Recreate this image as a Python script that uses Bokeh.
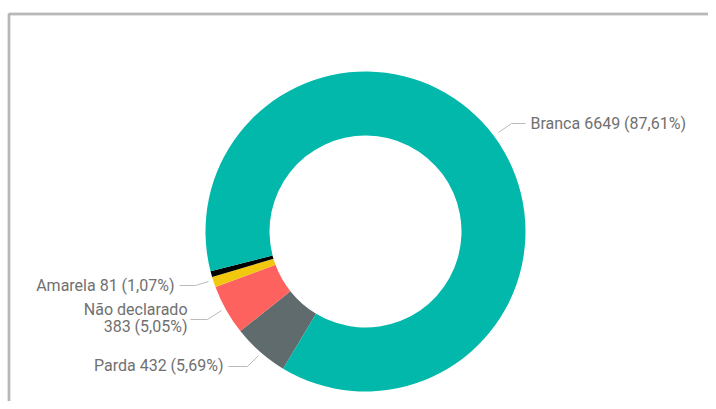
import math
from bokeh.plotting import figure
from bokeh.models import Range1d, ColumnDataSource
from bokeh.core.properties import value
from bokeh.embed import file_html
from bokeh.resources import INLINE

# ---- data ----
categories = ["Parda", "Não declarado", "Amarela", "Preta", "Branca"]
counts = [432, 383, 81, 44, 6649]
colors = ["#5F6B6D", "#FD625E", "#F2C80F", "#000000", "#01B8AA"]

total = sum(counts)

# ---- layout constants (screen pixel coordinates) ----
H = 409
CX, CY = 365, 231
R_OUT, R_IN = 160, 96
START_CW = 211.0  # degrees clockwise from 12 o'clock where first slice begins

def sy(y):
    return H - y

p = figure(width=708, height=401, output_backend="svg", toolbar_location=None,
           x_range=Range1d(0, 708), y_range=Range1d(8, 409), min_border=0)
p.axis.visible = False
p.grid.visible = False
p.outline_line_color = None
p.background_fill_color = "white"
p.border_fill_color = "white"

# frame border
p.line([8.5, 8.5, 716], [0, sy(13.5), sy(13.5)], line_color="#c8c8c8", line_width=3)
p.line([8.5, 8.5, 716], [0, sy(13.5), sy(13.5)], line_color="#a8a8a8", line_width=1)

starts, ends = [], []
cum = 0.0
for c in counts:
    th0 = START_CW + 360.0 * cum / total
    cum += c
    th1 = START_CW + 360.0 * cum / total
    starts.append(math.radians(90 - th0))
    ends.append(math.radians(90 - th1))

src = ColumnDataSource(dict(x=[CX] * len(counts), y=[sy(CY)] * len(counts),
                            start=starts, end=ends, color=colors))
p.annular_wedge(x="x", y="y", inner_radius=R_IN, outer_radius=R_OUT,
                start_angle="start", end_angle="end", direction="clock",
                fill_color="color", line_color=None, source=src)

def pct(c):
    return f"{100.0 * c / total:.2f}".replace(".", ",") + "%"

label_col = "#707070"
font = value("Roboto")
fs = "16px"
lead = "#bbbbbb"

# Branca label (right)
i = categories.index("Branca")
p.line([498, 511, 525], [sy(132), sy(123), sy(123)], line_color=lead, line_width=1)
p.text([530], [sy(123)], text=[f"Branca {counts[i]} ({pct(counts[i])})"],
       text_font=font, text_font_size=fs, text_color=label_col,
       text_align="left", text_baseline="middle")

# Amarela label
i = categories.index("Amarela")
p.line([179, 195, 208], [sy(285), sy(285), sy(281)], line_color=lead, line_width=1)
p.text([174], [sy(285)], text=[f"Amarela {counts[i]} ({pct(counts[i])})"],
       text_font=font, text_font_size=fs, text_color=label_col,
       text_align="right", text_baseline="middle")

# Não declarado label (two lines)
i = categories.index("Não declarado")
p.line([190, 207, 221], [sy(319), sy(319), sy(310)], line_color=lead, line_width=1)
p.text([187, 187], [sy(309), sy(326)],
       text=["Não declarado", f"{counts[i]} ({pct(counts[i])})"],
       text_font=font, text_font_size=fs, text_color=label_col,
       text_align="right", text_baseline="middle")

# Parda label
i = categories.index("Parda")
p.line([228, 247, 258], [sy(366), sy(366), sy(355)], line_color=lead, line_width=1)
p.text([223], [sy(365)], text=[f"Parda {counts[i]} ({pct(counts[i])})"],
       text_font=font, text_font_size=fs, text_color=label_col,
       text_align="right", text_baseline="middle")

open("out.html", "w").write(file_html(p, INLINE))
